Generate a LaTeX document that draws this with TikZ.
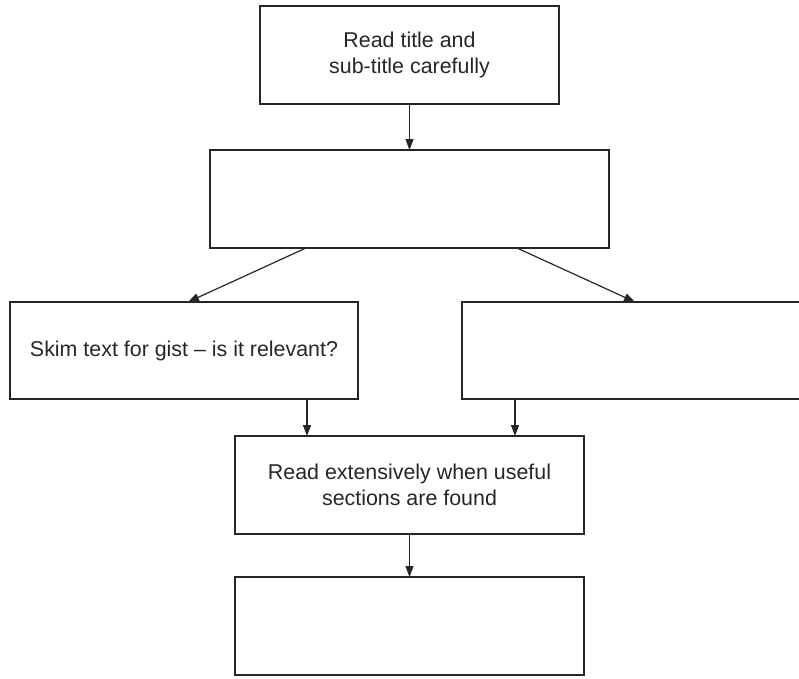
\documentclass[tikz,border=0pt]{standalone}
\usepackage{fontspec}
\setmainfont{Liberation Sans}
\usetikzlibrary{arrows.meta}
\definecolor{ink}{HTML}{262626}
\begin{document}
\begin{tikzpicture}[x=1pt,y=-1pt,
  box/.style={draw=ink, line width=1.8pt, rectangle, inner sep=0pt, outer sep=0pt,
    align=center, text=ink, font=\fontsize{21.4}{26}\selectfont},
  conn/.style={draw=ink, line width=1.2pt, -{Triangle[length=11pt,width=8pt]}}]
\useasboundingbox (0,0) rectangle (799,678);
\clip (0,0) rectangle (799,678);
\node[box, minimum width=299pt, minimum height=98pt] (b1) at (409.5,55) {Read title and\\sub-title carefully};
\node[box, minimum width=399pt, minimum height=98pt] (b2) at (409.5,199) {};
\node[box, minimum width=348pt, minimum height=97pt] (b3) at (184,350.5) {Skim text for gist -- is it relevant?};
\node[box, minimum width=340pt, minimum height=97pt] (b4) at (632,350.5) {};
\node[box, minimum width=349pt, minimum height=98pt] (b5) at (409.5,485) {Read extensively when useful\\sections are found};
\node[box, minimum width=349pt, minimum height=98pt] (b6) at (409.5,626) {};
\draw[conn] (b1.south) -- (b2.north);
\draw[conn] ([xshift=-103.5pt]b2.south) -- ([xshift=4pt]b3.north);
\draw[conn] ([xshift=107.5pt]b2.south) -- ([xshift=3pt]b4.north);
\draw[conn] ([xshift=123pt]b3.south) -- ([xshift=-102.5pt]b5.north);
\draw[conn] ([xshift=-117pt]b4.south) -- ([xshift=105.5pt]b5.north);
\draw[conn] (b5.south) -- (b6.north);
\end{tikzpicture}
\end{document}
